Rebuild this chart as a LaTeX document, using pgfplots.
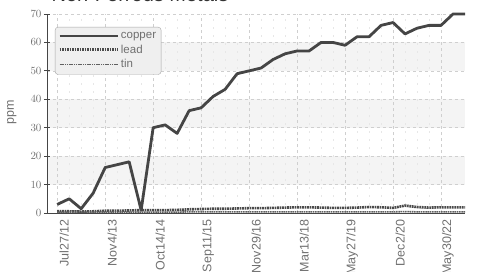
\documentclass[border=0pt]{standalone}
\usepackage{fontspec}
\setmainfont{Liberation Sans}
\usepackage{pgfplots}
\usepackage{pgfplotstable}
\pgfplotsset{compat=1.18}
\definecolor{cu}{HTML}{454545}
\definecolor{pb}{HTML}{4A4A4A}
\definecolor{sn}{HTML}{606060}
\definecolor{txt}{HTML}{707070}
\definecolor{band}{HTML}{F4F4F4}
\definecolor{gridc}{HTML}{CFCFCF}
\definecolor{legfill}{HTML}{EFEFEF}
\pgfplotstableread{
i cu pb sn
0 3 0.6 0.3
1 5 0.6 0.3
2 1.5 0.5 0.3
3 7 0.6 0.3
4 16 0.8 0.3
5 17 0.8 0.3
6 18 0.9 0.3
7 1 1.0 0.3
8 30 1.0 0.3
9 31 1.0 0.3
10 28 1.1 0.3
11 36 1.3 0.4
12 37 1.4 0.4
13 41 1.5 0.4
14 43.5 1.5 0.4
15 49 1.6 0.4
16 50 1.7 0.4
17 51 1.7 0.4
18 54 1.8 0.4
19 56 1.9 0.4
20 57 2.0 0.4
21 57 2.0 0.4
22 60 1.9 0.4
23 60 1.8 0.4
24 59 1.8 0.4
25 62 1.9 0.4
26 62 2.1 0.4
27 66 2.0 0.4
28 67 1.8 0.4
29 63 2.6 0.5
30 65 2.1 0.4
31 66 1.9 0.4
32 66 2.0 0.4
33 70 2.0 0.4
34 70 2.0 0.4
}\data
\begin{document}
\begin{tikzpicture}
\begin{axis}[
  at={(0pt,0pt)}, anchor=south west,
  scale only axis, width=418pt, height=199pt,
  xmin=-0.85, xmax=34, ymin=0, ymax=70,
  clip=false,
  set layers,
  axis x line*=bottom, axis y line*=left,
  x axis line style={-, draw=cu, line width=0.9pt},
  y axis line style={-, draw=cu, line width=0.9pt},
  xtick={0,4,8,12,16,20,24,28,32},
  xticklabels={Jul27/12,Nov4/13,Oct14/14,Sep11/15,Nov29/16,Mar13/18,May27/19,Dec2/20,May30/22},
  minor x tick num=3,
  ytick={0,10,20,30,40,50,60,70},
  xmajorgrids, ymajorgrids, xminorgrids,
  major grid style={draw=gridc, dash pattern=on 3pt off 3pt, line width=0.6pt},
  minor grid style={draw=gridc!50, dash pattern=on 2pt off 6pt, line width=0.5pt},
  x tick style={draw=none},
  minor x tick style={draw=none},
  y tick style={draw=cu, line width=0.8pt},
  major tick length=6pt, tick align=center,
  yticklabel style={font=\fontsize{11}{13}\selectfont, text=txt, xshift=1pt},
  xticklabel style={font=\fontsize{12.5}{14}\selectfont, text=txt, rotate=90, anchor=east, yshift=-7pt},
  ylabel={ppm},
  ylabel style={at={(axis description cs:-0.084,0.507)}, anchor=center, font=\fontsize{12.5}{14}\selectfont, text=txt},
  legend cell align=left,
  legend style={at={(axis description cs:0.019,0.935)}, anchor=north west,
    draw=gridc!80!black, fill=legfill, rounded corners=3pt,
    font=\fontsize{11.5}{13}\selectfont, text=txt, row sep=1pt, inner sep=3pt},
  legend image code/.code={\draw[#1] (0pt,0pt) -- (58pt,0pt);},
]
\begin{pgfonlayer}{axis background}
\fill[band] (axis cs:-0.85,10) rectangle (axis cs:34,20);
\fill[band] (axis cs:-0.85,30) rectangle (axis cs:34,40);
\fill[band] (axis cs:-0.85,50) rectangle (axis cs:34,60);
\end{pgfonlayer}
\addplot[draw=cu, line width=2.8pt, line join=round] table[x=i,y=cu] {\data};
\addplot[draw=pb, line width=2.6pt, dash pattern=on 1.8pt off 0.7pt] table[x=i,y=pb] {\data};
\addplot[draw=sn, line width=1.6pt, dash pattern=on 1.2pt off 0.6pt] table[x=i,y=sn] {\data};
\legend{copper,lead,tin}
\end{axis}
\node[anchor=base, font=\fontsize{20}{24}\selectfont, text=black!80] at (93pt,211pt) {Non-Ferrous Metals};
\pgfresetboundingbox
\path[use as bounding box] (-47pt,-58pt) rectangle (451pt,213pt);
\end{tikzpicture}
\end{document}
